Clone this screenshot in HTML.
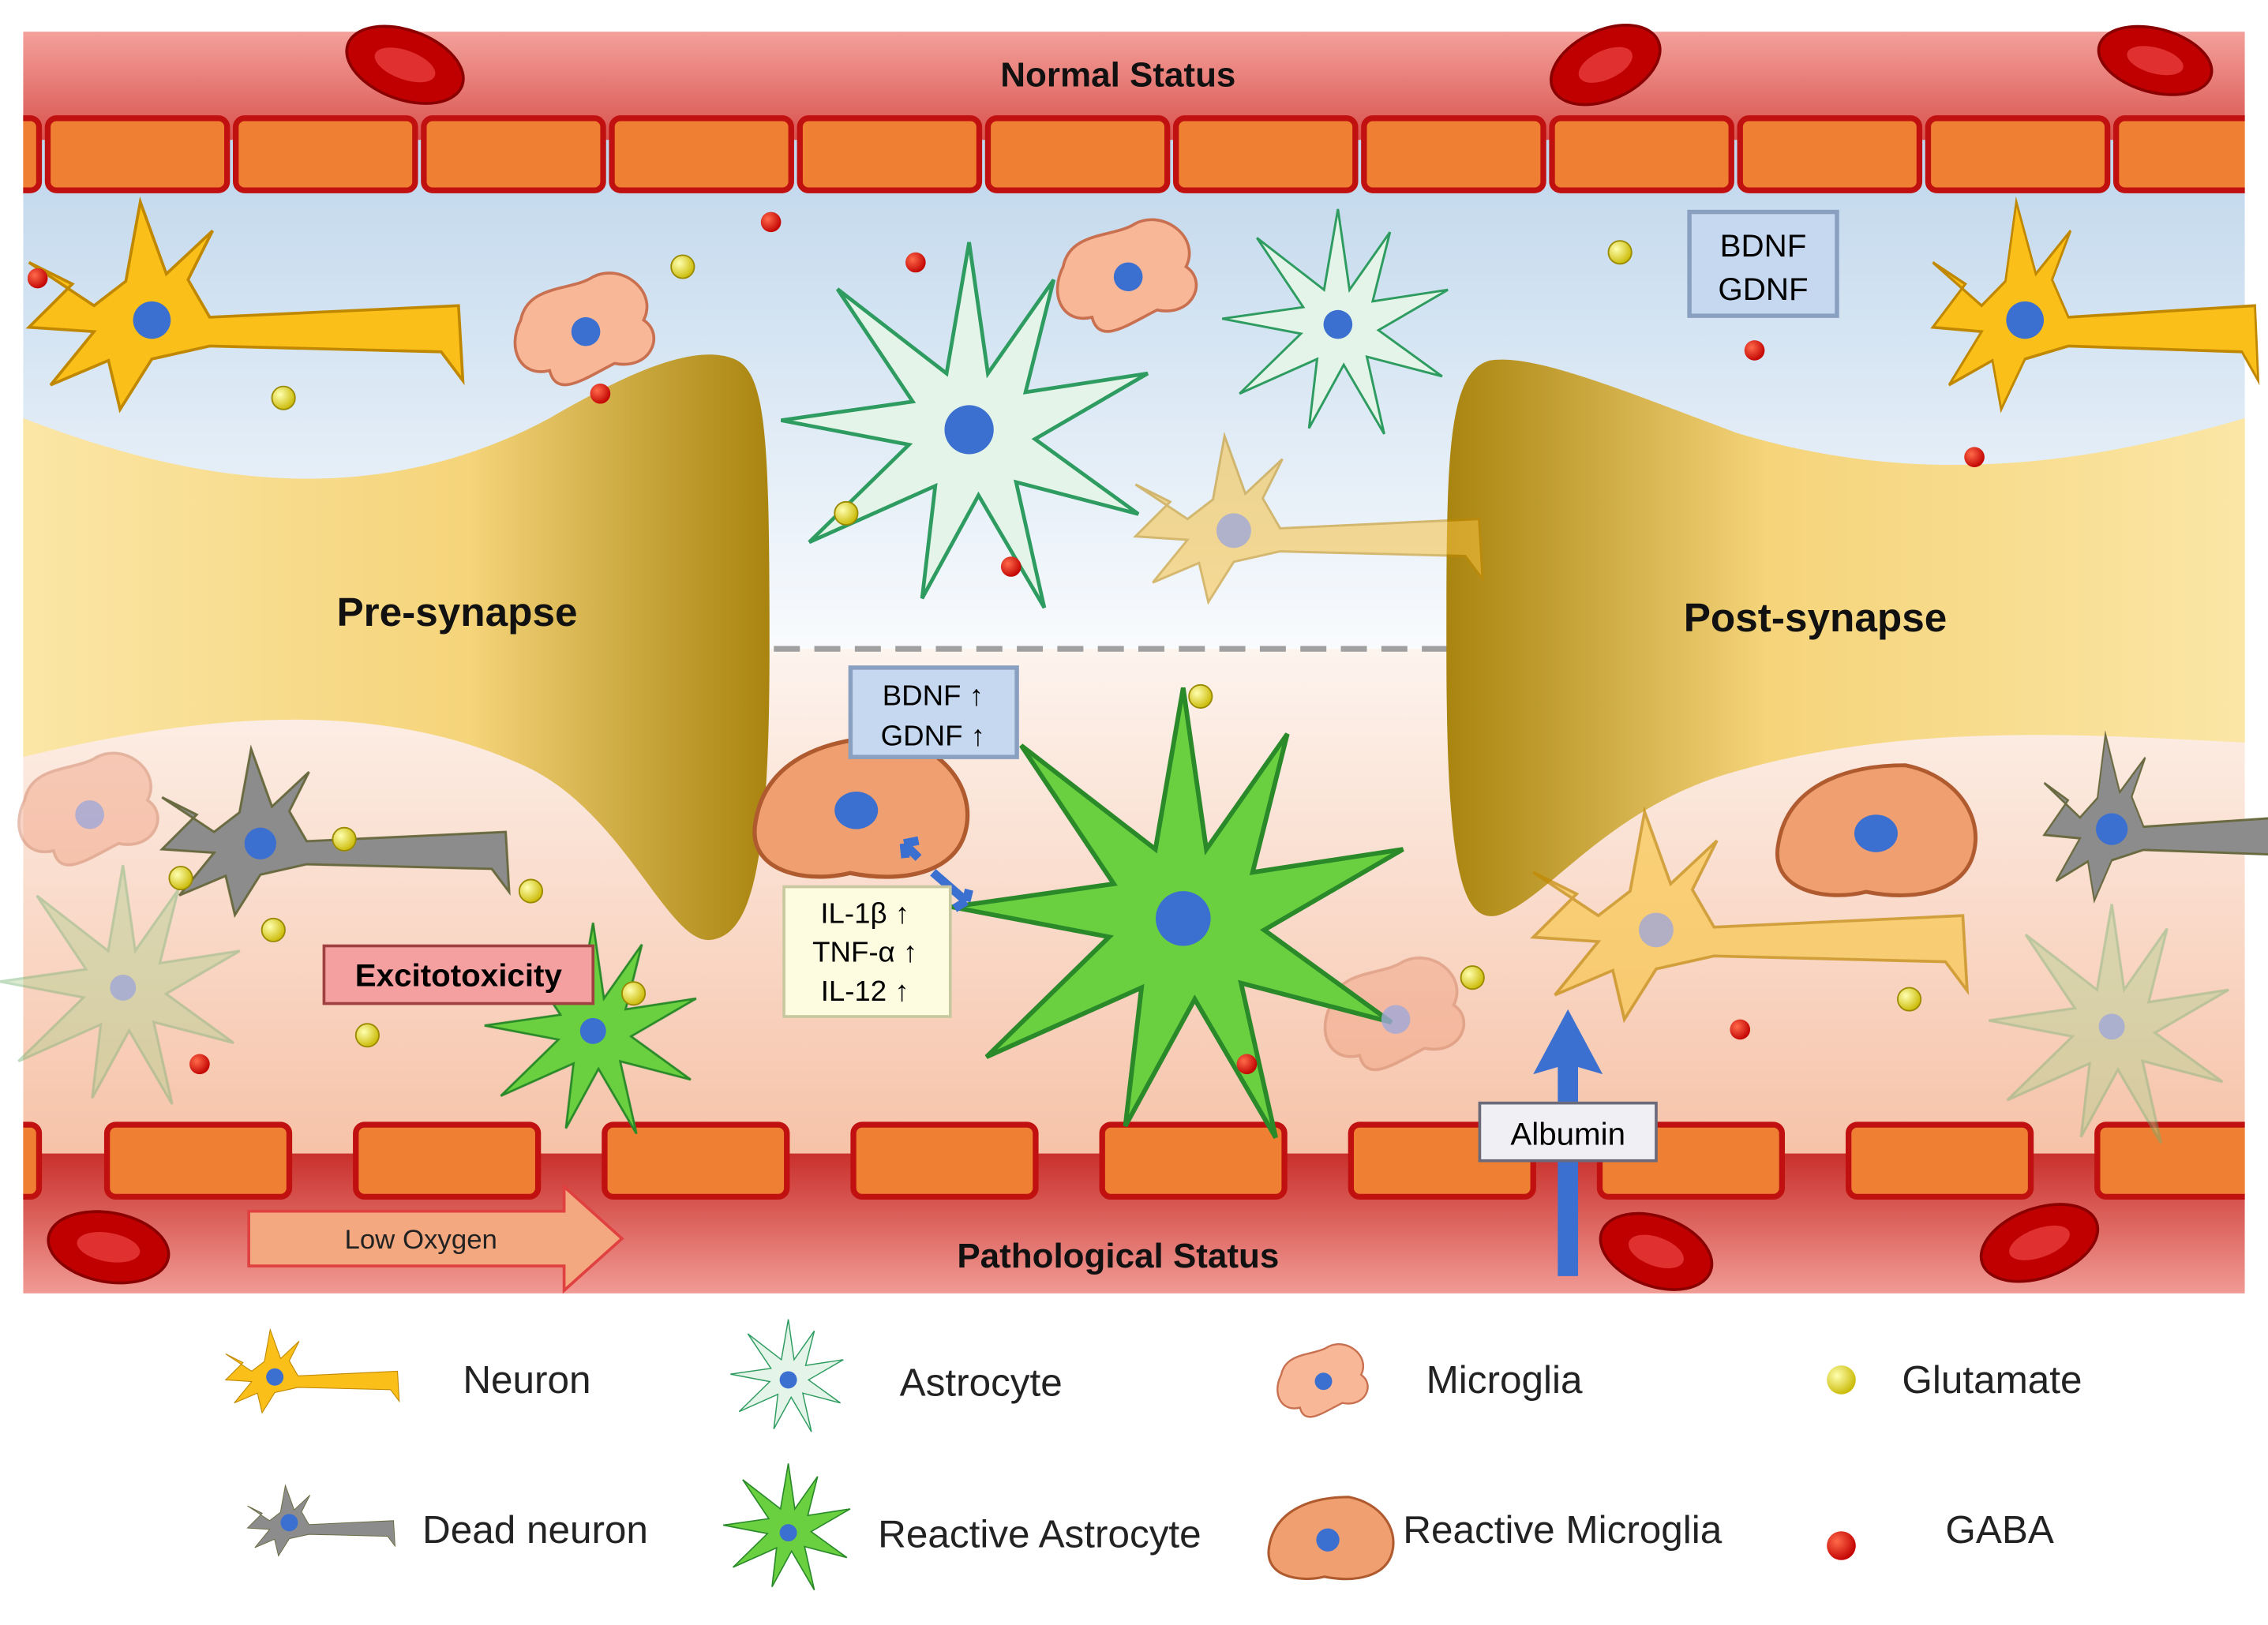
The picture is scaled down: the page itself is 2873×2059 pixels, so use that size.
<!DOCTYPE html>
<html><head><meta charset="utf-8"><style>
html,body{margin:0;padding:0;background:#fff;}
svg{display:block;}
text{font-family:"Liberation Sans","DejaVu Sans",sans-serif;}
</style></head><body>
<svg width="2873" height="2059" viewBox="0 0 1568 1127" preserveAspectRatio="none" xmlns="http://www.w3.org/2000/svg">
<defs>
<linearGradient id="topband" x1="0" y1="0" x2="0" y2="1"><stop offset="0" stop-color="#f4a09a"/><stop offset="1" stop-color="#d9534f"/></linearGradient>
<linearGradient id="botband" x1="0" y1="0" x2="0" y2="1"><stop offset="0" stop-color="#c9302c"/><stop offset="1" stop-color="#f19a94"/></linearGradient>
<linearGradient id="upper" x1="0" y1="0" x2="0" y2="1"><stop offset="0" stop-color="#b3cfe8"/><stop offset="1" stop-color="#fbfcfe"/></linearGradient>
<linearGradient id="lower" x1="0" y1="0" x2="0" y2="1"><stop offset="0" stop-color="#fdf4ee"/><stop offset="1" stop-color="#f6c1a6"/></linearGradient>
<linearGradient id="preG" x1="0" y1="0" x2="1" y2="0"><stop offset="0" stop-color="#fbe6a6"/><stop offset="0.6" stop-color="#f5d47a"/><stop offset="1" stop-color="#a9840f"/></linearGradient>
<linearGradient id="postG" x1="1" y1="0" x2="0" y2="0"><stop offset="0" stop-color="#fbe6a6"/><stop offset="0.6" stop-color="#f5d47a"/><stop offset="1" stop-color="#a9840f"/></linearGradient>
<radialGradient id="glu" cx="0.35" cy="0.35" r="0.7"><stop offset="0" stop-color="#ffffb0"/><stop offset="1" stop-color="#c9b800"/></radialGradient>
<radialGradient id="gaba" cx="0.35" cy="0.35" r="0.7"><stop offset="0" stop-color="#ff6a4a"/><stop offset="1" stop-color="#c00000"/></radialGradient>
<g id="neuronShape"><path d="M-40,-10 L-85,-40 L-55,-25 L-85,5 L-40,8 L-70,45 L-30,28 L-22,62 L0,27 L40,18 L200,22 L215,42 L212,-10 L40,-2 L25,-28 L42,-62 L10,-32 L-8,-82 L-18,-27 Z"/></g>
<g id="astroShape"><path d="M0,-100 L10,-30 L45,-80 L30,-20 L95,-30 L35,5 L90,45 L25,28 L40,95 L5,35 L-25,90 L-18,30 L-85,60 L-32,8 L-100,-5 L-30,-15 L-70,-75 L-12,-30 Z"/></g>
<g id="microShape"><path d="M-45,-10 C-40,-35 -10,-30 5,-40 C25,-50 50,-30 40,-10 C55,0 45,25 20,20 C0,30 -20,45 -25,25 C-45,30 -55,10 -45,-10Z"/></g>
<g id="rmicroShape"><path d="M-50,5 C-45,-25 -15,-35 15,-35 C40,-30 55,-10 50,10 C45,30 20,35 -5,30 C-25,35 -55,30 -50,5Z"/></g>
</defs>

<rect x="16" y="22" width="1536" height="440" fill="url(#upper)"/>
<rect x="16" y="450" width="1536" height="360" fill="url(#lower)"/>
<rect x="16" y="22" width="1536" height="75" fill="url(#topband)"/>
<rect x="16" y="800" width="1536" height="97" fill="url(#botband)"/>

<g fill="#ee7f33" stroke="#c01010" stroke-width="4">
<rect x="5" y="82" width="22" height="50" rx="6"/>
<rect x="33" y="82" width="124" height="50" rx="6"/><rect x="163" y="82" width="124" height="50" rx="6"/>
<rect x="293" y="82" width="124" height="50" rx="6"/><rect x="423" y="82" width="124" height="50" rx="6"/>
<rect x="553" y="82" width="124" height="50" rx="6"/><rect x="683" y="82" width="124" height="50" rx="6"/>
<rect x="813" y="82" width="124" height="50" rx="6"/><rect x="943" y="82" width="124" height="50" rx="6"/>
<rect x="1073" y="82" width="124" height="50" rx="6"/><rect x="1203" y="82" width="124" height="50" rx="6"/>
<rect x="1333" y="82" width="124" height="50" rx="6"/><rect x="1463" y="82" width="100" height="50" rx="6"/>
<rect x="5" y="780" width="22" height="50" rx="6"/>
<rect x="74" y="780" width="126" height="50" rx="6"/><rect x="246" y="780" width="126" height="50" rx="6"/>
<rect x="418" y="780" width="126" height="50" rx="6"/><rect x="590" y="780" width="126" height="50" rx="6"/>
<rect x="762" y="780" width="126" height="50" rx="6"/><rect x="934" y="780" width="126" height="50" rx="6"/>
<rect x="1106" y="780" width="126" height="50" rx="6"/><rect x="1278" y="780" width="126" height="50" rx="6"/>
<rect x="1450" y="780" width="110" height="50" rx="6"/>
</g>
<rect x="0" y="0" width="16" height="1127" fill="#fff"/><rect x="1552" y="0" width="16" height="1127" fill="#fff"/>

<g fill="#c00000" stroke="#8a0000" stroke-width="2">
<ellipse cx="280" cy="45" rx="42" ry="24" transform="rotate(20 280 45)"/>
<ellipse cx="1110" cy="45" rx="40" ry="24" transform="rotate(-25 1110 45)"/>
<ellipse cx="1490" cy="42" rx="40" ry="22" transform="rotate(15 1490 42)"/>
<ellipse cx="75" cy="865" rx="42" ry="24" transform="rotate(10 75 865)"/>
<ellipse cx="1145" cy="868" rx="40" ry="24" transform="rotate(20 1145 868)"/>
<ellipse cx="1410" cy="862" rx="42" ry="24" transform="rotate(-20 1410 862)"/>
</g>
<g fill="#e03030">
<ellipse cx="280" cy="45" rx="22" ry="10" transform="rotate(20 280 45)"/>
<ellipse cx="1110" cy="45" rx="20" ry="10" transform="rotate(-25 1110 45)"/>
<ellipse cx="1490" cy="42" rx="20" ry="9" transform="rotate(15 1490 42)"/>
<ellipse cx="75" cy="865" rx="22" ry="10" transform="rotate(10 75 865)"/>
<ellipse cx="1145" cy="868" rx="20" ry="10" transform="rotate(20 1145 868)"/>
<ellipse cx="1410" cy="862" rx="22" ry="10" transform="rotate(-20 1410 862)"/>
</g>

<line x1="535" y1="450" x2="1005" y2="450" stroke="#a0a0a0" stroke-width="4" stroke-dasharray="18,10"/>

<path d="M16,290 C120,330 250,360 380,290 C440,255 480,240 505,248 C530,255 532,300 532,450 C532,600 520,650 490,652 C460,652 430,560 360,530 C250,480 120,500 16,525 Z" fill="url(#preG)"/>
<path d="M1552,290 C1450,320 1330,340 1200,300 C1120,270 1060,245 1030,250 C1000,258 1000,320 1000,450 C1000,600 1010,640 1035,635 C1070,625 1110,560 1200,535 C1320,500 1450,510 1552,515 Z" fill="url(#postG)"/>
<text x="316" y="434" font-size="28" font-weight="bold" text-anchor="middle" fill="#111">Pre-synapse</text>
<text x="1255" y="438" font-size="28" font-weight="bold" text-anchor="middle" fill="#111">Post-synapse</text>

<g stroke="#c08800" stroke-width="2" fill="#fbbf1a">
<use href="#neuronShape" transform="translate(105,222) scale(1)"/>
<use href="#neuronShape" transform="translate(1400,222) scale(0.75,1)"/>
</g>
<g opacity="0.55" stroke="#c08800" stroke-width="2" fill="#f6c040"><use href="#neuronShape" transform="translate(853,368) scale(0.8)"/></g>
<g stroke="#2e9c60" stroke-width="2" fill="#e4f4e8">
<use href="#astroShape" transform="translate(670,298) scale(1.3)"/>
<use href="#astroShape" transform="translate(925,225) scale(0.8)"/>
</g>
<g stroke="#c87050" stroke-width="2" fill="#f8b898">
<use href="#microShape" transform="translate(405,232)"/>
<use href="#microShape" transform="translate(780,195)"/>
</g>
<g opacity="0.45">
<g stroke="#c87050" stroke-width="2" fill="#f0a080"><use href="#microShape" transform="translate(62,565)"/><use href="#microShape" transform="translate(965,707)"/></g>
<g stroke="#70b070" stroke-width="2" fill="#b0d090"><use href="#astroShape" transform="translate(85,685) scale(0.85)"/><use href="#astroShape" transform="translate(1460,712) scale(0.85)"/></g>
</g>
<g stroke="#6a6a40" stroke-width="2" fill="#8c8c8c">
<use href="#neuronShape" transform="translate(180,585) scale(0.8)"/>
<use href="#neuronShape" transform="translate(1460,575) scale(0.55,0.8)"/>
</g>
<g opacity="0.7" stroke="#c08800" stroke-width="2" fill="#f8c850"><use href="#neuronShape" transform="translate(1145,645) scale(1)"/></g>
<g stroke="#2a8a2a" stroke-width="2" fill="#6ad040">
<use href="#astroShape" transform="translate(410,715) scale(0.75)"/>
<use href="#astroShape" transform="translate(818,637) scale(1.6)"/>
</g>
<g stroke="#b05a30" stroke-width="2" fill="#f0a070">
<use href="#rmicroShape" transform="translate(595,562) scale(1.45)"/>
<use href="#rmicroShape" transform="translate(1297,578) scale(1.35)"/>
</g>

<g fill="#3b6fd0">
<circle cx="105" cy="222" r="13"/><circle cx="1400" cy="222" r="13"/><circle cx="405" cy="230" r="10"/>
<circle cx="780" cy="192" r="10"/><circle cx="670" cy="298" r="17"/><circle cx="925" cy="225" r="10"/>
<circle cx="180" cy="585" r="11"/><circle cx="1460" cy="575" r="11"/><circle cx="410" cy="715" r="9"/>
<circle cx="818" cy="637" r="19"/><ellipse cx="592" cy="562" rx="15" ry="13"/><ellipse cx="1297" cy="578" rx="15" ry="13"/>
</g>
<g fill="#a0a8d8" opacity="0.8"><circle cx="853" cy="368" r="12"/><circle cx="1145" cy="645" r="12"/><circle cx="62" cy="565" r="10"/><circle cx="965" cy="707" r="10"/><circle cx="85" cy="685" r="9"/><circle cx="1460" cy="712" r="9"/></g>

<g fill="url(#glu)" stroke="#9a8a00" stroke-width="1">
<circle cx="472" cy="185" r="8"/><circle cx="196" cy="276" r="8"/><circle cx="585" cy="356" r="8"/><circle cx="1120" cy="175" r="8"/>
<circle cx="830" cy="483" r="8"/><circle cx="238" cy="582" r="8"/><circle cx="125" cy="609" r="8"/><circle cx="367" cy="618" r="8"/>
<circle cx="189" cy="645" r="8"/><circle cx="438" cy="689" r="8"/><circle cx="254" cy="718" r="8"/><circle cx="1018" cy="678" r="8"/><circle cx="1320" cy="693" r="8"/>
</g>
<g fill="url(#gaba)">
<circle cx="26" cy="193" r="7"/><circle cx="533" cy="154" r="7"/><circle cx="633" cy="182" r="7"/><circle cx="415" cy="273" r="7"/>
<circle cx="699" cy="393" r="7"/><circle cx="1213" cy="243" r="7"/><circle cx="1365" cy="317" r="7"/><circle cx="138" cy="738" r="7"/>
<circle cx="862" cy="738" r="7"/><circle cx="1203" cy="714" r="7"/>
</g>

<text x="773" y="60" font-size="24" font-weight="bold" text-anchor="middle" fill="#111">Normal Status</text>
<text x="773" y="879" font-size="24" font-weight="bold" text-anchor="middle" fill="#111">Pathological Status</text>

<rect x="1168" y="147" width="102" height="72" fill="#c6d8f0" stroke="#8aa0c0" stroke-width="3"/>
<text x="1219" y="178" font-size="22" text-anchor="middle">BDNF</text><text x="1219" y="208" font-size="22" text-anchor="middle">GDNF</text>

<rect x="588" y="463" width="115" height="62" fill="#c6d8f0" stroke="#8aa0c0" stroke-width="3"/>
<text x="645" y="489" font-size="20" text-anchor="middle">BDNF ↑</text><text x="645" y="517" font-size="20" text-anchor="middle">GDNF ↑</text>

<path d="M635,595 L625,585 M625,585 L635,583 M625,585 L626,595 M645,605 L668,625 M668,625 L660,630 M668,625 L670,617" stroke="#3b6fd0" stroke-width="6" fill="none"/>

<rect x="542" y="615" width="115" height="90" fill="#fdfbe0" stroke="#c8c8a0" stroke-width="2"/>
<text x="598" y="640" font-size="20" text-anchor="middle">IL-1β ↑</text>
<text x="598" y="667" font-size="20" text-anchor="middle">TNF-α ↑</text>
<text x="598" y="694" font-size="20" text-anchor="middle">IL-12 ↑</text>

<rect x="224" y="656" width="186" height="40" fill="#f5a0a0" stroke="#a04040" stroke-width="2"/>
<text x="317" y="684" font-size="22" font-weight="bold" text-anchor="middle">Excitotoxicity</text>

<path d="M1077,885 L1077,740 L1060,745 L1084,700 L1108,745 L1091,740 L1091,885 Z" fill="#3b6fd0"/>
<rect x="1023" y="765" width="122" height="40" fill="#f0f0f4" stroke="#6a6a7a" stroke-width="2"/>
<text x="1084" y="794" font-size="22" text-anchor="middle">Albumin</text>

<path d="M172,840 L390,840 L390,823 L430,859 L390,895 L390,878 L172,878 Z" fill="#f4a880" stroke="#e04040" stroke-width="2"/>
<text x="291" y="866" font-size="19" text-anchor="middle" fill="#222">Low Oxygen</text>

<g stroke="#c08800" stroke-width="1.5" fill="#fbbf1a"><use href="#neuronShape" transform="translate(190,955) scale(0.4)"/></g>
<g stroke="#6a6a40" stroke-width="1.5" fill="#8c8c8c"><use href="#neuronShape" transform="translate(200,1058) scale(0.34)"/></g>
<g stroke="#2e9c60" stroke-width="2" fill="#e4f4e8"><use href="#astroShape" transform="translate(545,955) scale(0.4)"/></g>
<g stroke="#2a8a2a" stroke-width="2" fill="#6ad040"><use href="#astroShape" transform="translate(545,1060) scale(0.45)"/></g>
<g stroke="#c87050" stroke-width="2" fill="#f8b898"><use href="#microShape" transform="translate(915,960) scale(0.65)"/></g>
<g stroke="#b05a30" stroke-width="2" fill="#f0a070"><use href="#rmicroShape" transform="translate(920,1068) scale(0.85)"/></g>
<g fill="#3b6fd0"><circle cx="190" cy="955" r="6"/><circle cx="200" cy="1056" r="6"/><circle cx="545" cy="957" r="6"/><circle cx="545" cy="1063" r="6"/><circle cx="915" cy="958" r="6"/><circle cx="918" cy="1068" r="8"/></g>
<circle cx="1273" cy="957" r="10" fill="url(#glu)"/>
<circle cx="1273" cy="1072" r="10" fill="url(#gaba)"/>
<g font-size="27" fill="#222">
<text x="320" y="966">Neuron</text>
<text x="292" y="1070">Dead neuron</text>
<text x="622" y="968">Astrocyte</text>
<text x="607" y="1073">Reactive Astrocyte</text>
<text x="986" y="966">Microglia</text>
<text x="970" y="1070">Reactive Microglia</text>
<text x="1315" y="966">Glutamate</text>
<text x="1345" y="1070">GABA</text>
</g>
</svg>
</body></html>
